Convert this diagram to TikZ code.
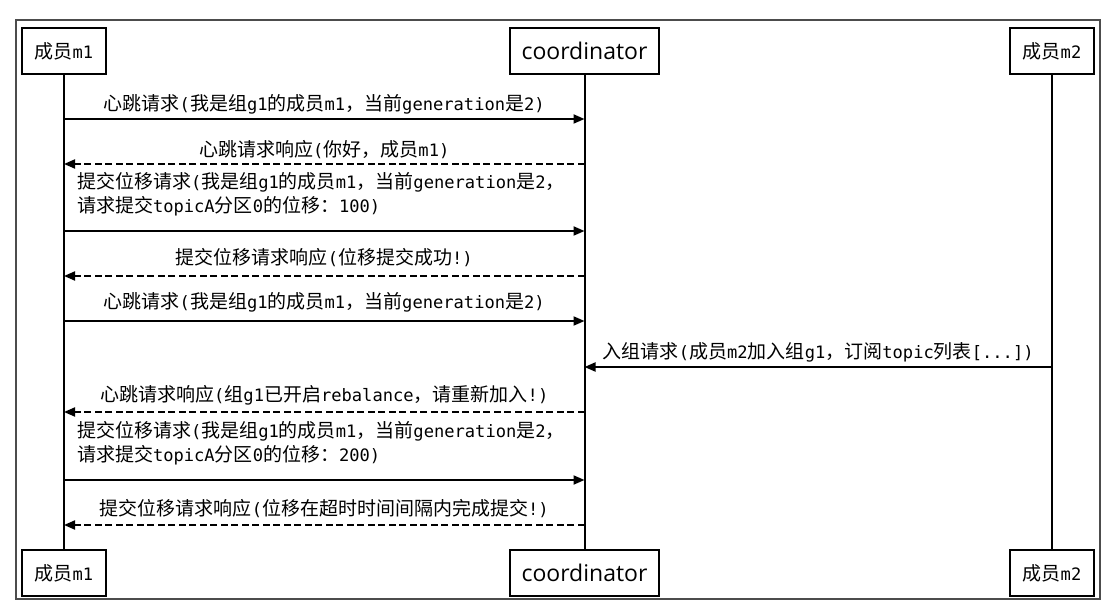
\documentclass[tikz,border=0pt]{standalone}
\usepackage{fontspec}
\setmainfont{Noto Sans CJK SC}
\newfontfamily\monofont[Scale=0.9]{DejaVu Sans Mono}
\newfontfamily\coordfont{Open Sans}
\newcommand\mtxt[1]{{\monofont #1}}
\usetikzlibrary{arrows.meta,positioning}

\begin{document}
\begin{tikzpicture}[x=1pt,y=-1pt,
        txt/.style={font=\fontsize{19}{23.5}\selectfont},
        actor/.style={txt,draw,line width=2pt,fill=white,minimum height=46pt,inner sep=0pt},
        life/.style={line width=2pt},
        msg/.style={line width=2pt,-{Triangle[length=11pt,width=9pt]}},
        reply/.style={msg,dash pattern=on 7pt off 3.5pt},
        lbl/.style={txt,above,inner sep=4pt},
        lbltwo/.style={txt,pos=0,anchor=south west,align=left,inner sep=0pt,xshift=12pt,yshift=14pt}
      ]
  \useasboundingbox (0,0) rectangle (1111,612);
  \draw[gray!60!black,line width=1.5pt] (16,20) rectangle (1100,599);

  \node (m1top) [actor,minimum width=84pt] at (64,51) {成员\mtxt{m1}};
  \node (cotop) [actor,minimum width=149pt,font=\coordfont\fontsize{23}{26}\selectfont] at (584.5,51) {coordinator};
  \node (m2top) [actor,minimum width=84pt] at (1052,51) {成员\mtxt{m2}};

  \node (m1bot) [actor,minimum width=84pt,below=474pt of m1top] {成员\mtxt{m1}};
  \node (cobot) [actor,minimum width=149pt,font=\coordfont\fontsize{23}{26}\selectfont,below=474pt of cotop] {coordinator};
  \node (m2bot) [actor,minimum width=84pt,below=474pt of m2top] {成员\mtxt{m2}};

  \draw[life] (m1top) -- (m1bot);
  \draw[life] (cotop) -- (cobot);
  \draw[life] (m2top) -- (m2bot);

  % message rows on the lifelines
  \foreach \r/\y in {1/119,2/164,3/231,4/276,5/321,6/367,7/412,8/480,9/525} {
    \coordinate (m1-\r) at (m1top.south |- 0,\y);
    \coordinate (co-\r) at (cotop.south |- 0,\y);
    \coordinate (m2-\r) at (m2top.south |- 0,\y);
  }

  \draw[msg] (m1-1) -- node[lbl] {心跳请求\mtxt{(}我是组\mtxt{g1}的成员\mtxt{m1}，当前\mtxt{generation}是\mtxt{2)}} (co-1);
  \draw[reply] (co-2) -- node[lbl] {心跳请求响应\mtxt{(}你好，成员\mtxt{m1)}} (m1-2);
  \draw[msg] (m1-3) -- node[lbltwo] {提交位移请求\mtxt{(}我是组\mtxt{g1}的成员\mtxt{m1}，当前\mtxt{generation}是\mtxt{2}，\\请求提交\mtxt{topicA}分区\mtxt{0}的位移：\mtxt{100)}} (co-3);
  \draw[reply] (co-4) -- node[lbl,yshift=4pt] {提交位移请求响应\mtxt{(}位移提交成功\mtxt{!)}} (m1-4);
  \draw[msg] (m1-5) -- node[lbl,yshift=4pt] {心跳请求\mtxt{(}我是组\mtxt{g1}的成员\mtxt{m1}，当前\mtxt{generation}是\mtxt{2)}} (co-5);
  \draw[msg] (m2-6) -- node[lbl] {入组请求\mtxt{(}成员\mtxt{m2}加入组\mtxt{g1}，订阅\mtxt{topic}列表\mtxt{[...])}} (co-6);
  \draw[reply] (co-7) -- node[lbl,yshift=2pt] {心跳请求响应\mtxt{(}组\mtxt{g1}已开启\mtxt{rebalance}，请重新加入\mtxt{!)}} (m1-7);
  \draw[msg] (m1-8) -- node[lbltwo] {提交位移请求\mtxt{(}我是组\mtxt{g1}的成员\mtxt{m1}，当前\mtxt{generation}是\mtxt{2}，\\请求提交\mtxt{topicA}分区\mtxt{0}的位移：\mtxt{200)}} (co-8);
  \draw[reply] (co-9) -- node[lbl,yshift=2pt] {提交位移请求响应\mtxt{(}位移在超时时间间隔内完成提交\mtxt{!)}} (m1-9);

\end{tikzpicture}
\end{document}
